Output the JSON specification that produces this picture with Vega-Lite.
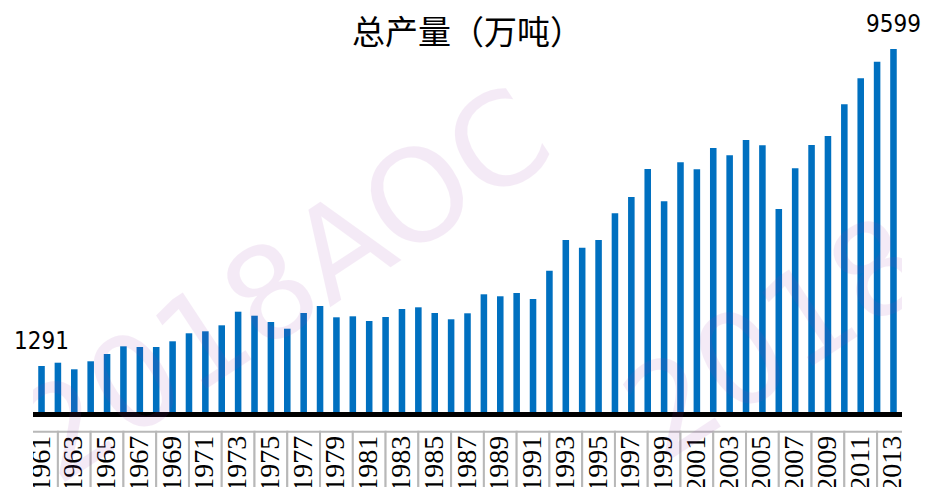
{
  "$schema": "https://vega.github.io/schema/vega-lite/v6.json",
  "background": "white",
  "padding": {"left": 14, "top": 0, "right": 0, "bottom": 0},
  "config": {"view": {"stroke": null}},
  "width": 869,
  "height": 487,
  "title": {"text": "总产量（万吨）", "font": "Noto Sans CJK SC", "fontSize": 33, "fontWeight": "normal", "color": "#000000", "anchor": "middle", "offset": -51},
  "data": {"values": [
    {"year": 1961, "value": 1291, "label": "1291"},
    {"year": 1962, "value": 1377},
    {"year": 1963, "value": 1204},
    {"year": 1964, "value": 1414},
    {"year": 1965, "value": 1605},
    {"year": 1966, "value": 1807},
    {"year": 1967, "value": 1789},
    {"year": 1968, "value": 1789},
    {"year": 1969, "value": 1938},
    {"year": 1970, "value": 2148},
    {"year": 1971, "value": 2200},
    {"year": 1972, "value": 2357},
    {"year": 1973, "value": 2714},
    {"year": 1974, "value": 2609},
    {"year": 1975, "value": 2444},
    {"year": 1976, "value": 2268},
    {"year": 1977, "value": 2680},
    {"year": 1978, "value": 2863},
    {"year": 1979, "value": 2567},
    {"year": 1980, "value": 2593},
    {"year": 1981, "value": 2470},
    {"year": 1982, "value": 2575},
    {"year": 1983, "value": 2785},
    {"year": 1984, "value": 2829},
    {"year": 1985, "value": 2680},
    {"year": 1986, "value": 2515},
    {"year": 1987, "value": 2672},
    {"year": 1988, "value": 3170},
    {"year": 1989, "value": 3118},
    {"year": 1990, "value": 3204},
    {"year": 1991, "value": 3047},
    {"year": 1992, "value": 3788},
    {"year": 1993, "value": 4593},
    {"year": 1994, "value": 4391},
    {"year": 1995, "value": 4593},
    {"year": 1996, "value": 5293},
    {"year": 1997, "value": 5720},
    {"year": 1998, "value": 6454},
    {"year": 1999, "value": 5607},
    {"year": 2000, "value": 6630},
    {"year": 2001, "value": 6446},
    {"year": 2002, "value": 7004},
    {"year": 2003, "value": 6813},
    {"year": 2004, "value": 7214},
    {"year": 2005, "value": 7075},
    {"year": 2006, "value": 5406},
    {"year": 2007, "value": 6472},
    {"year": 2008, "value": 7083},
    {"year": 2009, "value": 7319},
    {"year": 2010, "value": 8150},
    {"year": 2011, "value": 8831},
    {"year": 2012, "value": 9266},
    {"year": 2013, "value": 9599, "label": "9599"}
  ]},
  "encoding": {
    "x": {"field": "year", "type": "ordinal", "scale": {"paddingInner": 0.6, "paddingOuter": 0.32}, "axis": null}
  },
  "layer": [
    {
      "mark": {"type": "bar", "color": "#0070C0"},
      "encoding": {
        "y": {"field": "value", "type": "quantitative", "scale": {"domain": [-1881, 10884], "zero": false, "nice": false}, "axis": null},
        "y2": {"datum": 85}
      }
    },
    {
      "mark": {"type": "rule", "color": "#000000", "strokeWidth": 5},
      "encoding": {"x": null, "y": {"datum": 19.5}}
    },
    {
      "transform": [{"filter": "datum.label"}],
      "mark": {"type": "text", "font": "DejaVu Sans Condensed", "fontSize": 24, "color": "#000000", "baseline": "alphabetic", "dy": -17},
      "encoding": {
        "y": {"field": "value", "type": "quantitative"},
        "text": {"field": "label"}
      }
    },
    {
      "transform": [{"filter": "datum.year % 2 == 1"}],
      "mark": {"type": "bar", "fill": "#ffffff", "stroke": "#b8b8b8", "strokeWidth": 2, "clip": true, "width": {"band": 5}},
      "encoding": {
        "y": {"datum": -431},
        "y2": {"datum": -3000}
      }
    },
    {
      "transform": [{"filter": "datum.year % 2 == 1"}],
      "mark": {"type": "text", "font": "Liberation Sans Narrow", "fontSize": 28, "color": "#000000", "angle": 270, "align": "right", "baseline": "middle", "dx": -4, "clip": true},
      "encoding": {
        "y": {"datum": -431},
        "text": {"field": "year", "type": "ordinal"}
      }
    },
    {
      "data": {"values": [{"wm": "2018AOC"}]},
      "mark": {"type": "text", "font": "DejaVu Sans", "fontSize": 128, "color": "#a040b0", "opacity": 0.1, "angle": 326.6, "align": "center", "baseline": "middle", "clip": true},
      "encoding": {
        "x": {"datum": 1976},
        "y": {"datum": 3283},
        "text": {"field": "wm"}
      }
    },
    {
      "data": {"values": [{"wm": "2018AOC"}]},
      "mark": {"type": "text", "font": "DejaVu Sans", "fontSize": 128, "color": "#a040b0", "opacity": 0.1, "angle": 326.6, "align": "center", "baseline": "middle", "clip": true},
      "encoding": {
        "x": {"datum": 2013},
        "y": {"datum": 3886},
        "text": {"field": "wm"}
      }
    }
  ]
}
